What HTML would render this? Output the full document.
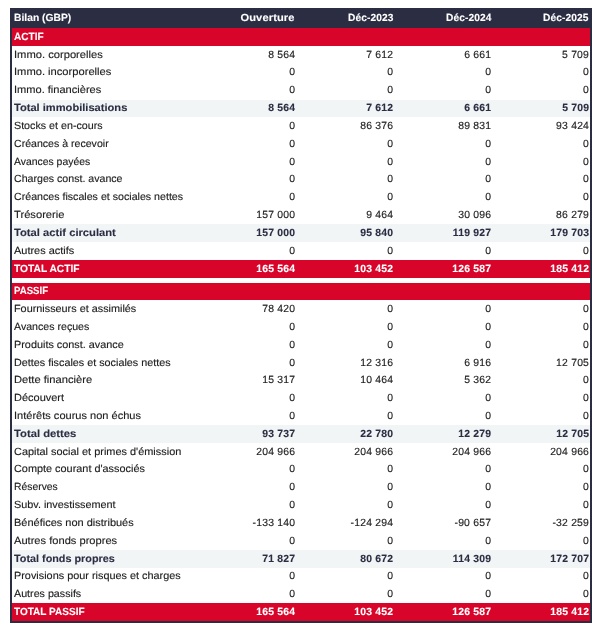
<!DOCTYPE html>
<html lang="fr"><head><meta charset="utf-8"><title>Bilan (GBP)</title>
<style>
html,body{margin:0;padding:0;background:#fff;}
body{width:600px;height:630px;position:relative;overflow:hidden;font-family:"Liberation Sans",sans-serif;font-size:10.4px;color:#1c1c1c;line-height:11px;text-rendering:geometricPrecision;-webkit-text-stroke:0.14px #1c1c1c;}
#t{position:absolute;left:0;top:0;width:600.00px;height:630px;}
.r{position:absolute;left:10.200px;width:582.000px;white-space:nowrap;}
.r span{position:absolute;display:block;white-space:pre;}
.l{left:4.000px;transform-origin:0 0;}
.n{text-align:right;letter-spacing:0.2px;transform-origin:100% 0;}
.hd,.sec{-webkit-text-stroke:0.1px #fff;}
.tot{-webkit-text-stroke:0.1px #2b2d42;}
.hd{background:#2b2d42;color:#fff;font-weight:bold;font-size:10.4px;}
.sec{background:#d90429;color:#fff;font-weight:bold;font-size:10.4px;}
.tot{background:#f2f5f6;color:#2b2d42;font-weight:bold;font-size:10.4px;}
.hd .n,.sec .n,.tot .n{letter-spacing:0.2px;}
.bl{position:absolute;background:#2b2d42;}
</style></head><body>
<div id="t">

<div class="r hd" style="top:8px;height:20px"><span class="l" style="top:5px;transform:scaleX(0.9918)">Bilan (GBP)</span><span class="n" style="top:5px;right:297.900px;letter-spacing:0.1px;transform:scaleX(1.07)">Ouverture</span><span class="n" style="top:5px;right:199.000px;letter-spacing:0.1px;transform:scaleX(0.98)">Déc-2023</span><span class="n" style="top:5px;right:101.100px;letter-spacing:0.1px;transform:scaleX(0.98)">Déc-2024</span><span class="n" style="top:5px;right:3.500px;letter-spacing:0.1px;transform:scaleX(0.98)">Déc-2025</span></div>
<div class="r sec" style="top:28px;height:18px"><span class="l" style="top:4px;transform:scaleX(0.9677)">ACTIF</span></div>
<div class="r " style="top:46px;height:18px"><span class="l" style="top:4px;transform:scaleX(1.0758)">Immo. corporelles</span><span class="n" style="top:4px;right:297.050px">8 564</span><span class="n" style="top:4px;right:199.050px">7 612</span><span class="n" style="top:4px;right:101.050px">6 661</span><span class="n" style="top:4px;right:3.100px">5 709</span></div>
<div class="r " style="top:64px;height:18px"><span class="l" style="top:3px;transform:scaleX(1.0736)">Immo. incorporelles</span><span class="n" style="top:3px;right:297.050px">0</span><span class="n" style="top:3px;right:199.050px">0</span><span class="n" style="top:3px;right:101.050px">0</span><span class="n" style="top:3px;right:3.100px">0</span></div>
<div class="r " style="top:82px;height:18px"><span class="l" style="top:3px;transform:scaleX(1.0640)">Immo. financières</span><span class="n" style="top:3px;right:297.050px">0</span><span class="n" style="top:3px;right:199.050px">0</span><span class="n" style="top:3px;right:101.050px">0</span><span class="n" style="top:3px;right:3.100px">0</span></div>
<div class="r tot" style="top:100px;height:17px"><span class="l" style="top:3px;transform:scaleX(1.0688)">Total immobilisations</span><span class="n" style="top:3px;right:297.000px">8 564</span><span class="n" style="top:3px;right:199.000px">7 612</span><span class="n" style="top:3px;right:101.000px">6 661</span><span class="n" style="top:3px;right:3.050px">5 709</span></div>
<div class="r " style="top:117px;height:18px"><span class="l" style="top:4px;transform:scaleX(1.0298)">Stocks et en-cours</span><span class="n" style="top:4px;right:297.050px">0</span><span class="n" style="top:4px;right:199.050px">86 376</span><span class="n" style="top:4px;right:101.050px">89 831</span><span class="n" style="top:4px;right:3.100px">93 424</span></div>
<div class="r " style="top:135px;height:18px"><span class="l" style="top:4px;transform:scaleX(1.0180)">Créances à recevoir</span><span class="n" style="top:4px;right:297.050px">0</span><span class="n" style="top:4px;right:199.050px">0</span><span class="n" style="top:4px;right:101.050px">0</span><span class="n" style="top:4px;right:3.100px">0</span></div>
<div class="r " style="top:153px;height:18px"><span class="l" style="top:4px;transform:scaleX(1.0016)">Avances payées</span><span class="n" style="top:4px;right:297.050px">0</span><span class="n" style="top:4px;right:199.050px">0</span><span class="n" style="top:4px;right:101.050px">0</span><span class="n" style="top:4px;right:3.100px">0</span></div>
<div class="r " style="top:171px;height:18px"><span class="l" style="top:3px;transform:scaleX(1.0208)">Charges const. avance</span><span class="n" style="top:3px;right:297.050px">0</span><span class="n" style="top:3px;right:199.050px">0</span><span class="n" style="top:3px;right:101.050px">0</span><span class="n" style="top:3px;right:3.100px">0</span></div>
<div class="r " style="top:189px;height:17px"><span class="l" style="top:3px;transform:scaleX(1.0236)">Créances fiscales et sociales nettes</span><span class="n" style="top:3px;right:297.050px">0</span><span class="n" style="top:3px;right:199.050px">0</span><span class="n" style="top:3px;right:101.050px">0</span><span class="n" style="top:3px;right:3.100px">0</span></div>
<div class="r " style="top:206px;height:18px"><span class="l" style="top:4px;transform:scaleX(1.0751)">Trésorerie</span><span class="n" style="top:4px;right:297.050px">157 000</span><span class="n" style="top:4px;right:199.050px">9 464</span><span class="n" style="top:4px;right:101.050px">30 096</span><span class="n" style="top:4px;right:3.100px">86 279</span></div>
<div class="r tot" style="top:224px;height:18px"><span class="l" style="top:4px;transform:scaleX(1.0777)">Total actif circulant</span><span class="n" style="top:4px;right:297.000px">157 000</span><span class="n" style="top:4px;right:199.000px">95 840</span><span class="n" style="top:4px;right:101.000px">119 927</span><span class="n" style="top:4px;right:3.050px">179 703</span></div>
<div class="r " style="top:242px;height:18px"><span class="l" style="top:4px;transform:scaleX(1.0553)">Autres actifs</span><span class="n" style="top:4px;right:297.050px">0</span><span class="n" style="top:4px;right:199.050px">0</span><span class="n" style="top:4px;right:101.050px">0</span><span class="n" style="top:4px;right:3.100px">0</span></div>
<div class="r sec" style="top:260px;height:18px"><span class="l" style="top:4px;transform:scaleX(0.9843)">TOTAL ACTIF</span><span class="n" style="top:4px;right:297.000px">165 564</span><span class="n" style="top:4px;right:199.000px">103 452</span><span class="n" style="top:4px;right:101.000px">126 587</span><span class="n" style="top:4px;right:3.050px">185 412</span></div>
<div class="r sec" style="top:283px;height:17px"><span class="l" style="top:3px;transform:scaleX(0.9271)">PASSIF</span></div>
<div class="r " style="top:300px;height:18px"><span class="l" style="top:4px;transform:scaleX(1.0428)">Fournisseurs et assimilés</span><span class="n" style="top:4px;right:297.050px">78 420</span><span class="n" style="top:4px;right:199.050px">0</span><span class="n" style="top:4px;right:101.050px">0</span><span class="n" style="top:4px;right:3.100px">0</span></div>
<div class="r " style="top:318px;height:18px"><span class="l" style="top:4px;transform:scaleX(1.0215)">Avances reçues</span><span class="n" style="top:4px;right:297.050px">0</span><span class="n" style="top:4px;right:199.050px">0</span><span class="n" style="top:4px;right:101.050px">0</span><span class="n" style="top:4px;right:3.100px">0</span></div>
<div class="r " style="top:336px;height:18px"><span class="l" style="top:4px;transform:scaleX(1.0446)">Produits const. avance</span><span class="n" style="top:4px;right:297.050px">0</span><span class="n" style="top:4px;right:199.050px">0</span><span class="n" style="top:4px;right:101.050px">0</span><span class="n" style="top:4px;right:3.100px">0</span></div>
<div class="r " style="top:354px;height:18px"><span class="l" style="top:4px;transform:scaleX(1.0390)">Dettes fiscales et sociales nettes</span><span class="n" style="top:4px;right:297.050px">0</span><span class="n" style="top:4px;right:199.050px">12 316</span><span class="n" style="top:4px;right:101.050px">6 916</span><span class="n" style="top:4px;right:3.100px">12 705</span></div>
<div class="r " style="top:372px;height:18px"><span class="l" style="top:3px;transform:scaleX(1.0735)">Dette financière</span><span class="n" style="top:3px;right:297.050px">15 317</span><span class="n" style="top:3px;right:199.050px">10 464</span><span class="n" style="top:3px;right:101.050px">5 362</span><span class="n" style="top:3px;right:3.100px">0</span></div>
<div class="r " style="top:390px;height:17px"><span class="l" style="top:3px;transform:scaleX(1.0570)">Découvert</span><span class="n" style="top:3px;right:297.050px">0</span><span class="n" style="top:3px;right:199.050px">0</span><span class="n" style="top:3px;right:101.050px">0</span><span class="n" style="top:3px;right:3.100px">0</span></div>
<div class="r " style="top:407px;height:18px"><span class="l" style="top:4px;transform:scaleX(1.0619)">Intérêts courus non échus</span><span class="n" style="top:4px;right:297.050px">0</span><span class="n" style="top:4px;right:199.050px">0</span><span class="n" style="top:4px;right:101.050px">0</span><span class="n" style="top:4px;right:3.100px">0</span></div>
<div class="r tot" style="top:425px;height:18px"><span class="l" style="top:4px;transform:scaleX(1.0818)">Total dettes</span><span class="n" style="top:4px;right:297.000px">93 737</span><span class="n" style="top:4px;right:199.000px">22 780</span><span class="n" style="top:4px;right:101.000px">12 279</span><span class="n" style="top:4px;right:3.050px">12 705</span></div>
<div class="r " style="top:443px;height:18px"><span class="l" style="top:4px;transform:scaleX(1.0518)">Capital social et primes d'émission</span><span class="n" style="top:4px;right:297.050px">204 966</span><span class="n" style="top:4px;right:199.050px">204 966</span><span class="n" style="top:4px;right:101.050px">204 966</span><span class="n" style="top:4px;right:3.100px">204 966</span></div>
<div class="r " style="top:461px;height:18px"><span class="l" style="top:3px;transform:scaleX(1.0472)">Compte courant d'associés</span><span class="n" style="top:3px;right:297.050px">0</span><span class="n" style="top:3px;right:199.050px">0</span><span class="n" style="top:3px;right:101.050px">0</span><span class="n" style="top:3px;right:3.100px">0</span></div>
<div class="r " style="top:479px;height:18px"><span class="l" style="top:3px;transform:scaleX(0.9978)">Réserves</span><span class="n" style="top:3px;right:297.050px">0</span><span class="n" style="top:3px;right:199.050px">0</span><span class="n" style="top:3px;right:101.050px">0</span><span class="n" style="top:3px;right:3.100px">0</span></div>
<div class="r " style="top:497px;height:17px"><span class="l" style="top:3px;transform:scaleX(1.0429)">Subv. investissement</span><span class="n" style="top:3px;right:297.050px">0</span><span class="n" style="top:3px;right:199.050px">0</span><span class="n" style="top:3px;right:101.050px">0</span><span class="n" style="top:3px;right:3.100px">0</span></div>
<div class="r " style="top:514px;height:18px"><span class="l" style="top:4px;transform:scaleX(1.0575)">Bénéfices non distribués</span><span class="n" style="top:4px;right:297.050px">-133 140</span><span class="n" style="top:4px;right:199.050px">-124 294</span><span class="n" style="top:4px;right:101.050px">-90 657</span><span class="n" style="top:4px;right:3.100px">-32 259</span></div>
<div class="r " style="top:532px;height:18px"><span class="l" style="top:4px;transform:scaleX(1.0691)">Autres fonds propres</span><span class="n" style="top:4px;right:297.050px">0</span><span class="n" style="top:4px;right:199.050px">0</span><span class="n" style="top:4px;right:101.050px">0</span><span class="n" style="top:4px;right:3.100px">0</span></div>
<div class="r tot" style="top:550px;height:18px"><span class="l" style="top:4px;transform:scaleX(1.0406)">Total fonds propres</span><span class="n" style="top:4px;right:297.000px">71 827</span><span class="n" style="top:4px;right:199.000px">80 672</span><span class="n" style="top:4px;right:101.000px">114 309</span><span class="n" style="top:4px;right:3.050px">172 707</span></div>
<div class="r " style="top:568px;height:18px"><span class="l" style="top:3px;transform:scaleX(1.0458)">Provisions pour risques et charges</span><span class="n" style="top:3px;right:297.050px">0</span><span class="n" style="top:3px;right:199.050px">0</span><span class="n" style="top:3px;right:101.050px">0</span><span class="n" style="top:3px;right:3.100px">0</span></div>
<div class="r " style="top:586px;height:17px"><span class="l" style="top:3px;transform:scaleX(1.0299)">Autres passifs</span><span class="n" style="top:3px;right:297.050px">0</span><span class="n" style="top:3px;right:199.050px">0</span><span class="n" style="top:3px;right:101.050px">0</span><span class="n" style="top:3px;right:3.100px">0</span></div>
<div class="r sec" style="top:603px;height:18px"><span class="l" style="top:4px;transform:scaleX(0.9646)">TOTAL PASSIF</span><span class="n" style="top:4px;right:297.000px">165 564</span><span class="n" style="top:4px;right:199.000px">103 452</span><span class="n" style="top:4px;right:101.000px">126 587</span><span class="n" style="top:4px;right:3.050px">185 412</span></div>
</div>
<div class="bl" style="left:10px;top:8px;width:2px;height:615px"></div>
<div class="bl" style="left:590px;top:8px;width:2px;height:615px"></div>
<div class="bl" style="left:10px;top:621px;width:582px;height:2px"></div>
</body></html>
